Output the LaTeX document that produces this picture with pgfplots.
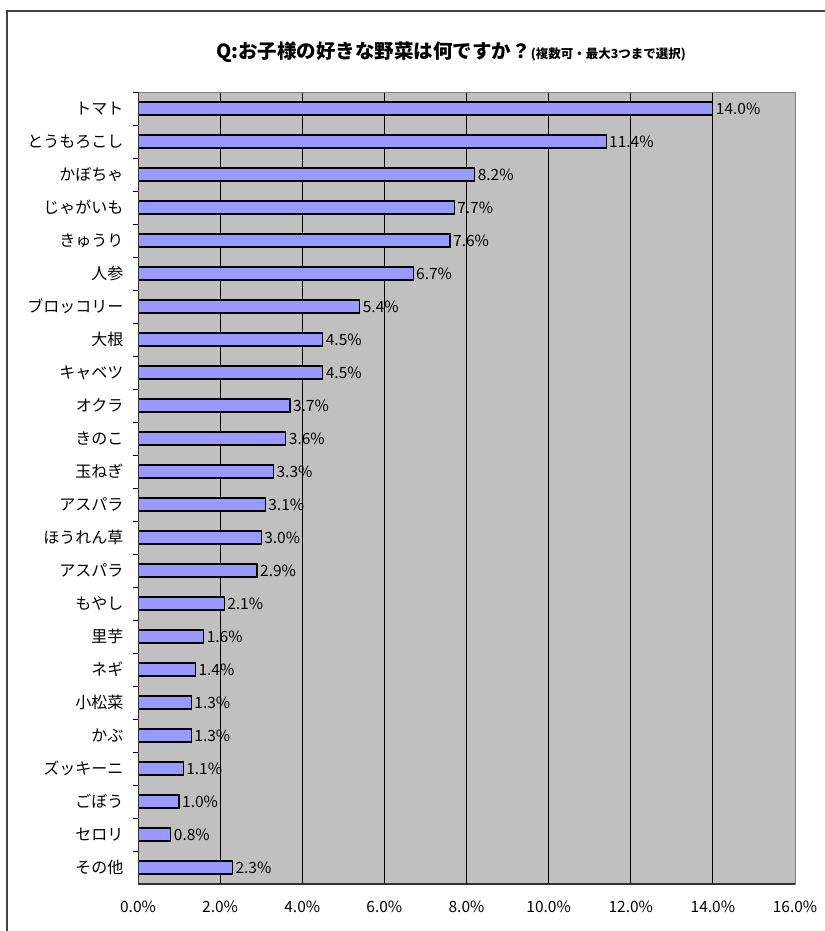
\documentclass[border=0pt]{standalone}
\usepackage{pgfplots}
\pgfplotsset{compat=1.18}
\usepackage{fontspec}
\setmainfont{Noto Sans CJK JP}

\definecolor{plotbg}{RGB}{192,192,192}
\definecolor{barblue}{RGB}{153,153,255}
\definecolor{framegray}{RGB}{64,64,64}

\begin{document}
\begin{tikzpicture}
\path[use as bounding box] (0bp,0bp) rectangle (825bp,931bp);
% outer chart frame
\draw[framegray, line width=1.3bp] (7bp,0bp) -- (7bp,920bp) -- (825bp,920bp);
% title
\node[anchor=center] at (451bp,879bp) {\bfseries\fontsize{19.5bp}{21bp}\selectfont Q:お子様の好きな野菜は何ですか？\fontsize{12.5bp}{14bp}\selectfont(複数可・最大3つまで選択)};

\begin{axis}[
    at={(138bp,47bp)}, anchor=south west,
    width=657bp, height=792bp, scale only axis,
    xbar, bar width=13bp,
    xmin=0, xmax=16,
    ymin=0.5, ymax=24.5, y dir=reverse,
    xtick={0,2,...,16},
    xticklabel={\pgfmathprintnumber[fixed,fixed zerofill,precision=1]{\tick}\%},
    /pgf/number format/assume math mode=true,
    xticklabel style={font=\fontsize{15.5bp}{17bp}\selectfont, yshift=-13bp},
    ytick={1,...,24},
    yticklabels={トマト,とうもろこし,かぼちゃ,じゃがいも,きゅうり,人参,ブロッコリー,大根,キャベツ,オクラ,きのこ,玉ねぎ,アスパラ,ほうれん草,アスパラ,もやし,里芋,ネギ,小松菜,かぶ,ズッキーニ,ごぼう,セロリ,その他},
    yticklabel style={font=\fontsize{16bp}{18bp}\selectfont, xshift=-11bp},
    tick pos=left,
    major tick length=0pt,
    minor ytick={0.5,1.5,...,23.5},
    minor tick length=5bp,
    minor tick style={black, line width=0.8bp},
    xtick style={draw=none},
    xmajorgrids, major grid style={black, line width=0.8bp},
    axis background/.style={fill=plotbg},
    axis line style={draw=gray, line width=1bp},
    nodes near coords={\pgfmathprintnumber[fixed,fixed zerofill,precision=1]{\pgfplotspointmeta}\%},
    point meta=x,
    every node near coord/.append style={anchor=west, inner sep=2.5bp, font=\fontsize{15.5bp}{17bp}\selectfont, black},
]
\addplot[fill=barblue, draw=black, line width=1.2bp] coordinates {
    (14.0,1) (11.4,2) (8.2,3) (7.7,4) (7.6,5) (6.7,6) (5.4,7) (4.5,8)
    (4.5,9) (3.7,10) (3.6,11) (3.3,12) (3.1,13) (3.0,14) (2.9,15) (2.1,16)
    (1.6,17) (1.4,18) (1.3,19) (1.3,20) (1.1,21) (1.0,22) (0.8,23) (2.3,24)
};
\draw[black!80, line width=1.5bp] (axis description cs:0,1) -- (axis description cs:0,0) -- (axis description cs:1,0);
\end{axis}
\end{tikzpicture}
\end{document}
